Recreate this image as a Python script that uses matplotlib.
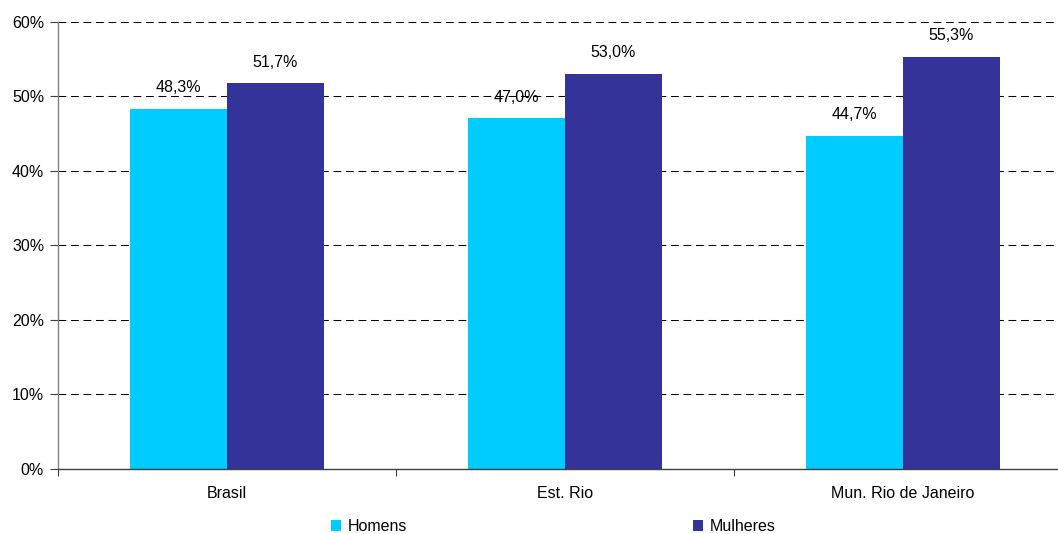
import matplotlib
matplotlib.use("Agg")
import matplotlib.pyplot as plt
import numpy as np
from matplotlib.patches import Patch

plt.rcParams['font.family'] = ['Liberation Sans', 'DejaVu Sans']

categories = ["Brasil", "Est. Rio", "Mun. Rio de Janeiro"]
homens = [48.3, 47.0, 44.7]
mulheres = [51.7, 53.0, 55.3]
series_names = ["Homens", "Mulheres"]
yticks = [0, 10, 20, 30, 40, 50, 60]

c_h = "#00CCFF"
c_m = "#333399"
fs = 11.5

W, H = 1058, 534
fig = plt.figure(figsize=(W / 100, H / 100), dpi=100)
ax = fig.add_axes([58 / W, (H - 469) / H, (1072 - 58) / W, (469 - 21.5) / H])

x = np.arange(len(categories))
bw = 0.287
b1 = ax.bar(x - bw / 2, homens, bw, color=c_h, zorder=2)
b2 = ax.bar(x + bw / 2, mulheres, bw, color=c_m, zorder=2)

fmt = lambda v: f"{v:.1f}%".replace(".", ",")
for bars, vals in ((b1, homens), (b2, mulheres)):
    for r, v in zip(bars, vals):
        ax.annotate(fmt(v), (r.get_x() + r.get_width() / 2, v),
                    xytext=(0, 15), textcoords="offset points",
                    ha="center", va="center", fontsize=fs, color="#000000", zorder=4)

ax.set_xlim(-0.5, len(categories) - 0.5)
ax.set_ylim(0, 60)
ax.set_yticks(yticks)
ax.set_yticklabels([f"{t}%" for t in yticks], fontsize=fs)
ax.yaxis.grid(True, color="#000000", linewidth=0.75, linestyle=(0, (7.5, 4.5)), zorder=1)
ax.set_axisbelow(True)

ax.set_xticks(x)
ax.set_xticklabels(categories, fontsize=fs)
ax.tick_params(axis="x", length=0, pad=12)
ax.set_xticks(np.arange(-0.5, len(categories)), minor=True)
ax.tick_params(axis="x", which="minor", length=5, width=0.8, color="#404040", direction="out")
ax.tick_params(axis="y", length=6, width=0.8, color="#404040", direction="out", pad=4)

for s in ("top", "right"):
    ax.spines[s].set_visible(False)
ax.spines["left"].set_color("#808080")
ax.spines["left"].set_linewidth(1.0)
ax.spines["bottom"].set_color("#404040")
ax.spines["bottom"].set_linewidth(1.0)
ax.spines["bottom"].set_zorder(3)

handles = [Patch(facecolor=c_h, edgecolor="none"), Patch(facecolor=c_m, edgecolor="none")]
fig.legend(handles, series_names, loc="center", bbox_to_anchor=(553 / W, 7.5 / H),
           ncol=2, frameon=False, fontsize=fs, handlelength=0.65, handleheight=0.65,
           handletextpad=0.4, columnspacing=17.9, borderpad=0, borderaxespad=0)

fig.savefig("out.png", dpi=100)
